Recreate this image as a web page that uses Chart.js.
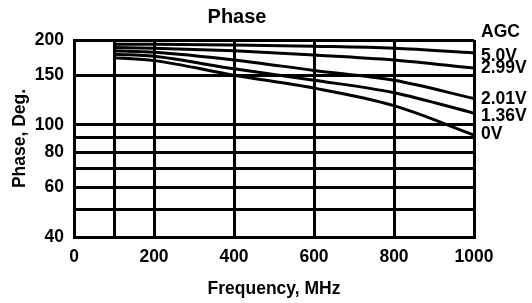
<!DOCTYPE html>
<html>
<head>
<meta charset="utf-8">
<script src="https://cdn.jsdelivr.net/npm/chart.js@4/dist/chart.umd.min.js"></script>
<style>
    html, body { margin: 0; padding: 0; background: #fff; }
    #wrap { width: 532px; height: 303px; }
</style>
</head>
<body>
<div id="wrap"><canvas id="phaseChart"></canvas></div>
<script>
// Frequency points (MHz) and phase (deg) for each AGC voltage
const freqs = [100, 200, 400, 600, 800, 1000];
const agc50 = [193, 193, 192, 190, 187, 180];
const agc299 = [188, 187, 183, 177, 170, 159];
const agc201 = [183, 181, 170, 156, 144, 124];
const agc136 = [178, 175, 158, 144, 130, 110];
const agc0 = [173, 169, 150, 135, 117, 92];
const seriesNames = ['5.0V', '2.99V', '2.01V', '1.36V', '0V'];

// Axis ticks
const xTicks = [0, 100, 200, 400, 600, 800, 1000];
const xLabels = [0, 200, 400, 600, 800, 1000];
const yTicks = [40, 50, 60, 70, 80, 90, 100, 150, 200];
const yLabels = [40, 60, 80, 100, 150, 200];

const fontFamily = '"Liberation Sans", Arial, Helvetica, sans-serif';
const tickFont = { family: fontFamily, size: 17.5, weight: 'bold' };

const allSeries = [agc50, agc299, agc201, agc136, agc0];

const datasets = allSeries.map((vals, i) => ({
    label: seriesNames[i],
    data: vals.map((v, j) => ({ x: freqs[j], y: v })),
    borderColor: '#000',
    borderWidth: 3,
    pointRadius: 0,
    fill: false,
    cubicInterpolationMode: 'monotone'
}));

// Right-hand labels: "AGC" header and one label next to each curve end
const sideLabels = {
    id: 'sideLabels',
    afterDraw(chart) {
        const ctx = chart.ctx;
        const area = chart.chartArea;
        const x = area.right + 7;
        const offsets = [-8, 16, 28, 59, 76, 94];
        const texts = ['AGC'].concat(seriesNames);
        ctx.save();
        ctx.fillStyle = '#000';
        ctx.font = 'bold 17.5px ' + fontFamily;
        ctx.textAlign = 'left';
        ctx.textBaseline = 'middle';
        texts.forEach((t, i) => ctx.fillText(t, x, area.top + offsets[i]));
        ctx.restore();
    }
};

new Chart(document.getElementById('phaseChart'), {
    type: 'line',
    data: { datasets: datasets },
    options: {
        responsive: true,
        maintainAspectRatio: false,
        animation: false,
        layout: { padding: { left: 0, right: 58, top: 0, bottom: 0 } },
        plugins: {
            legend: { display: false },
            tooltip: { enabled: false },
            title: {
                display: true,
                text: 'Phase',
                color: '#000',
                font: { family: fontFamily, size: 20, weight: 'bold' },
                padding: { top: 5, bottom: 11 }
            }
        },
        scales: {
            x: {
                type: 'linear',
                min: 0,
                max: 1000,
                afterBuildTicks: s => { s.ticks = xTicks.map(v => ({ value: v })); },
                afterFit: s => { s.height = 66; },
                ticks: {
                    autoSkip: false,
                    maxRotation: 0,
                    padding: 10,
                    color: '#000',
                    font: tickFont,
                    callback: v => xLabels.includes(v) ? String(v) : ''
                },
                grid: { color: '#000', lineWidth: 3, drawTicks: false },
                border: { color: '#000', width: 3 },
                title: {
                    display: true,
                    text: 'Frequency, MHz',
                    color: '#000',
                    font: tickFont,
                    padding: { top: 3, bottom: 3 }
                }
            },
            y: {
                type: 'logarithmic',
                min: 40,
                max: 200,
                afterBuildTicks: s => { s.ticks = yTicks.map(v => ({ value: v })); },
                afterFit: s => { s.width = 74; },
                ticks: {
                    autoSkip: false,
                    padding: 10,
                    color: '#000',
                    font: tickFont,
                    callback: v => yLabels.includes(v) ? String(v) : ''
                },
                grid: { color: '#000', lineWidth: 3, drawTicks: false },
                border: { color: '#000', width: 3 },
                title: {
                    display: true,
                    text: 'Phase, Deg.',
                    color: '#000',
                    font: tickFont,
                    padding: { top: 10, bottom: 4 }
                }
            }
        }
    },
    plugins: [sideLabels]
});
</script>
</body>
</html>
